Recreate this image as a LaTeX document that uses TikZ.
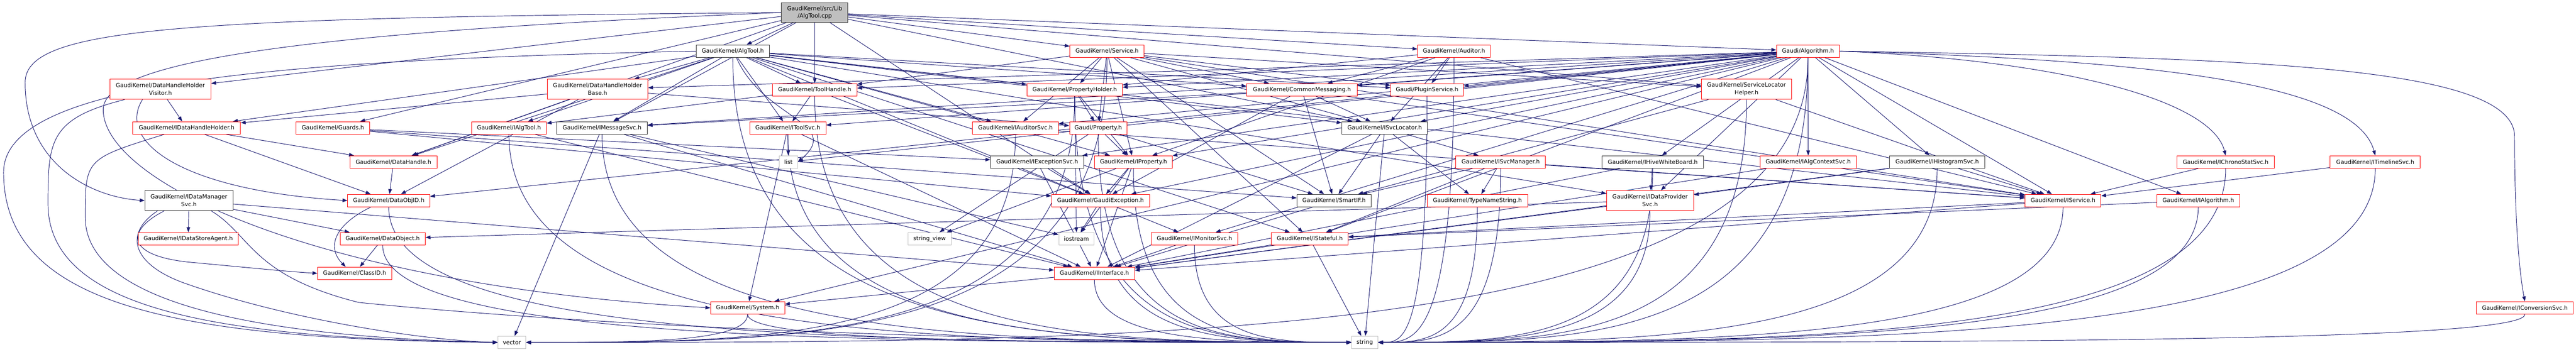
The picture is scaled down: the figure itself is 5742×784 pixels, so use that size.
\documentclass[tikz,border=0pt]{standalone}
\usepackage{fontspec}
\setmainfont{DejaVu Sans}
\usetikzlibrary{arrows.meta,calc}
\definecolor{edgec}{RGB}{25,25,112}
\definecolor{nodered}{RGB}{255,0,0}
\definecolor{nodeblk}{RGB}{50,50,50}
\definecolor{nodegry}{RGB}{191,191,191}
\definecolor{rootfill}{RGB}{191,191,191}
\pgfdeclarelayer{bg}
\pgfsetlayers{bg,main}
\tikzset{
  nb/.style={draw, line width=1pt, fill=white, inner sep=0pt, align=center,
    font=\fontsize{12.7}{17}\selectfont, minimum height=28pt},
  nred/.style={nb, draw=nodered},
  nblk/.style={nb, draw=nodeblk},
  ngry/.style={nb, draw=nodegry},
  nroot/.style={nb, draw=nodeblk, fill=rootfill},
  twol/.style={minimum height=45pt},
  e/.style={draw=edgec, line width=1.1pt, -{Triangle[length=11pt,width=8pt]}}
}
\newcommand\edL[2]{\draw[e] (#1) -- (#2);}
\newcommand\edSW[1]{\draw[e] let \p1=(#1.south), \p2=(string.west) in (\p1) .. controls (\x1,\y2) and ({(\x1+\x2)/2},\y2) .. (\p2);}
\newcommand\edSE[1]{\draw[e] let \p1=(#1.south), \p2=(string.east) in (\p1) .. controls (\x1,\y2) and ({(\x1+\x2)/2},\y2) .. (\p2);}
\newcommand\edVW[1]{\draw[e] let \p1=(#1.south), \p2=(vector.west) in (\p1) .. controls (\x1,\y2) and ({(\x1+\x2)/2},\y2) .. (\p2);}
\newcommand\edVE[1]{\draw[e] let \p1=(#1.south), \p2=(vector.east) in (\p1) .. controls (\x1,\y2) and ({(\x1+\x2)/2},\y2) .. (\p2);}
\begin{document}
\begin{tikzpicture}[x=1pt,y=1pt]
\useasboundingbox (0,0) rectangle (5742,784);
% row 0
\node[nroot, twol, minimum height=44pt, minimum width=148pt] (root) at (1816,756) {GaudiKernel/src/Lib\\/AlgTool.cpp};
% row 1
\node[nblk, minimum width=163pt] (algtoolh) at (1633.5,670) {GaudiKernel/AlgTool.h};
\node[nred, minimum width=165pt] (service) at (2467.5,670) {GaudiKernel/Service.h};
\node[nred, minimum width=162pt] (auditor) at (3241,670) {GaudiKernel/Auditor.h};
\node[nred, minimum width=140pt] (algorithm) at (4030,670) {Gaudi/Algorithm.h};
% row 2
\node[nred, twol, minimum width=225pt] (dhhv) at (357.5,585) {GaudiKernel/DataHandleHolder\\Visitor.h};
\node[nred, twol, minimum width=224pt] (dhhb) at (1332,585) {GaudiKernel/DataHandleHolder\\Base.h};
\node[nred, minimum width=188pt] (toolhandle) at (1816,584) {GaudiKernel/ToolHandle.h};
\node[nred, minimum width=213pt] (propholder) at (2395.5,584) {GaudiKernel/PropertyHolder.h};
\node[nred, minimum width=246pt] (commonmsg) at (2902,584) {GaudiKernel/CommonMessaging.h};
\node[nred, minimum width=162pt] (plugin) at (3181,584) {Gaudi/PluginService.h};
\node[nred, twol, minimum width=200pt] (slh) at (3893,585) {GaudiKernel/ServiceLocator\\Helper.h};
% row 3
\node[nred, minimum width=240pt] (idhh) at (416,499) {GaudiKernel/IDataHandleHolder.h};
\node[nred, minimum width=164pt] (guards) at (742,499) {GaudiKernel/Guards.h};
\node[nred, minimum width=167pt] (ialgtool) at (1134.5,499) {GaudiKernel/IAlgTool.h};
\node[nblk, minimum width=202pt] (imsgsvc) at (1342,499) {GaudiKernel/IMessageSvc.h};
\node[nred, minimum width=170pt] (itoolsvc) at (1756,499) {GaudiKernel/IToolSvc.h};
\node[nred, minimum width=191pt] (iauditorsvc) at (2263.5,499) {GaudiKernel/IAuditorSvc.h};
\node[nred, minimum width=128pt] (property) at (2448,499) {Gaudi/Property.h};
\node[nblk, minimum width=191pt] (isvcloc) at (3086.5,499) {GaudiKernel/ISvcLocator.h};
% row 4
\node[nred, minimum width=194pt] (datahandle) at (877,423) {GaudiKernel/DataHandle.h};
\node[ngry, minimum width=41pt] (list) at (1757.5,423) {list};
\node[nblk, minimum width=208pt] (iexcsvc) at (2312,423) {GaudiKernel/IExceptionSvc.h};
\node[nred, minimum width=173pt] (iproperty) at (2526.5,423) {GaudiKernel/IProperty.h};
\node[nred, minimum width=200pt] (isvcmgr) at (3345,423) {GaudiKernel/ISvcManager.h};
\node[nblk, minimum width=226pt] (ihwb) at (3684,423) {GaudiKernel/IHiveWhiteBoard.h};
\node[nred, minimum width=215pt] (ialgctx) at (4030.5,423) {GaudiKernel/IAlgContextSvc.h};
\node[nblk, minimum width=212pt] (ihistsvc) at (4318,423) {GaudiKernel/IHistogramSvc.h};
\node[nred, minimum width=216pt] (ichrono) at (4961,423) {GaudiKernel/IChronoStatSvc.h};
\node[nred, minimum width=201pt] (itimeline) at (5294.5,423) {GaudiKernel/ITimelineSvc.h};
% row 5
\node[nblk, twol, minimum width=196pt] (idms) at (421,337) {GaudiKernel/IDataManager\\Svc.h};
\node[nred, minimum width=183pt] (dataobjid) at (866.5,337) {GaudiKernel/DataObjID.h};
\node[nred, minimum width=218pt] (gexc) at (2453,337) {GaudiKernel/GaudiException.h};
\node[nblk, minimum width=165pt] (smartif) at (2973.5,337) {GaudiKernel/SmartIF.h};
\node[nred, minimum width=224pt] (typename) at (3293,337) {GaudiKernel/TypeNameString.h};
\node[nred, twol, minimum width=194pt] (idps) at (3678,337) {GaudiKernel/IDataProvider\\Svc.h};
\node[nred, minimum width=169pt] (iservice) at (4598.5,337) {GaudiKernel/IService.h};
\node[nred, minimum width=184pt] (ialgorithm) at (4900,337) {GaudiKernel/IAlgorithm.h};
% row 6
\node[nred, minimum width=223pt] (idsa) at (419.5,252) {GaudiKernel/IDataStoreAgent.h};
\node[nred, minimum width=190pt] (dataobject) at (853,252) {GaudiKernel/DataObject.h};
\node[ngry, minimum width=96pt] (stringview) at (2072,252) {string\_view};
\node[ngry, minimum width=79pt] (iostream) at (2399.5,252) {iostream};
\node[nred, minimum width=193pt] (imonitor) at (2662.5,252) {GaudiKernel/IMonitorSvc.h};
\node[nred, minimum width=171pt] (istateful) at (2919.5,252) {GaudiKernel/IStateful.h};
% row 7
\node[nred, minimum width=165pt] (classid) at (790.5,175) {GaudiKernel/ClassID.h};
\node[nred, minimum width=179pt] (iinterface) at (2439.5,175) {GaudiKernel/IInterface.h};
% row 8
\node[nred, minimum width=165pt] (system) at (1666.5,98) {GaudiKernel/System.h};
\node[nred, minimum width=216pt] (iconv) at (5628,98) {GaudiKernel/IConversionSvc.h};
% row 9
\node[ngry, minimum width=62pt] (vector) at (1141,21) {vector};
\node[ngry, minimum width=58pt] (string) at (3042,21) {string};

\begin{pgfonlayer}{bg}
% root
\edL{root}{algtoolh}
\edL{root}{toolhandle}
\edL{root}{service}
\edL{root}{auditor}
\edL{root}{algorithm}
\edL{root}{slh}
\edL{root}{dhhv}
\edL{root}{guards}
\edL{root}{imsgsvc}
\edL{root}{isvcloc}
\edL{root}{gexc}
\edL{root}{datahandle}
\draw[e] (root.west) .. controls (400,744) and (56,724) .. (56,600) .. controls (56,420) and (200,345) .. (idms.west);
\draw[e] (root.west) .. controls (700,714) and (230,650) .. (230,540) .. controls (230,380) and (700,150) .. (system.west);
% AlgTool.h
\edL{algtoolh}{dhhb}
\edL{algtoolh}{idhh}
\edL{algtoolh}{ialgtool}
\edL{algtoolh}{imsgsvc}
\edL{algtoolh}{itoolsvc}
\edL{algtoolh}{toolhandle}
\edL{algtoolh}{datahandle}
\edL{algtoolh}{commonmsg}
\edL{algtoolh}{propholder}
\edL{algtoolh}{iauditorsvc}
\edL{algtoolh}{iproperty}
\edL{algtoolh}{imonitor}
\edL{algtoolh}{iservice}
\edL{algtoolh}{istateful}
\edL{algtoolh}{isvcloc}
\edL{algtoolh}{plugin}
\edL{algtoolh}{idps}
\draw[e] ([xshift=8pt]algtoolh.south) .. controls (1700,520) and (1880,510) .. (list.east);
\draw[e] (algtoolh.west) .. controls (600,650) and (8,600) .. (8,400) .. controls (8,100) and (400,28) .. (vector.west);
\edSW{algtoolh}
% Service.h
\edL{service}{propholder}
\edL{service}{iauditorsvc}
\edL{service}{property}
\edL{service}{iproperty}
\edL{service}{commonmsg}
\edL{service}{iservice}
\edL{service}{istateful}
\edL{service}{isvcloc}
\edL{service}{slh}
\edL{service}{smartif}
\edL{service}{toolhandle}
\edL{service}{plugin}
\edVE{service}
% Auditor.h
\edL{auditor}{commonmsg}
\edL{auditor}{plugin}
\edL{auditor}{isvcloc}
\edL{auditor}{propholder}
\edL{auditor}{iproperty}
\edL{auditor}{iservice}
\edSE{auditor}
% Algorithm.h
\edL{algorithm}{commonmsg}
\edL{algorithm}{dataobjid}
\edL{algorithm}{ialgctx}
\edL{algorithm}{ialgorithm}
\edL{algorithm}{iauditorsvc}
\edL{algorithm}{ihistsvc}
\edL{algorithm}{idps}
\edL{algorithm}{iexcsvc}
\edL{algorithm}{imsgsvc}
\edL{algorithm}{imonitor}
\edL{algorithm}{iproperty}
\edL{algorithm}{iservice}
\edL{algorithm}{istateful}
\edL{algorithm}{isvcloc}
\edL{algorithm}{itoolsvc}
\edL{algorithm}{propholder}
\edL{algorithm}{toolhandle}
\edL{algorithm}{plugin}
\edL{algorithm}{dhhb}
\edL{algorithm}{ihwb}
\edL{algorithm}{list}
\edL{algorithm}{gexc}
\edL{algorithm}{system}
\draw[e] (algorithm.east) .. controls (4600,650) and (4930,560) .. (ichrono.north);
\draw[e] (algorithm.east) .. controls (4800,650) and (5250,600) .. (itimeline.north);
\draw[e] (algorithm.east) .. controls (5000,655) and (5605,640) .. (5605,480) .. controls (5605,300) and (5615,180) .. (iconv.north);
\edSE{algorithm}
\edVE{algorithm}
% DataHandleHolderVisitor.h
\edL{dhhv}{idhh}
\draw[e] ([xshift=-40pt]dhhv.south) .. controls (260,470) and (400,360) .. (dataobjid.west);
\draw[e] ([xshift=-80pt]dhhv.south) .. controls (110,520) and (107,470) .. (107,330) .. controls (107,90) and (500,30) .. (vector.west);
% DataHandleHolderBase.h
\edL{dhhb}{idhh}
\edL{dhhb}{datahandle}
\edL{dhhb}{dataobjid}
\edL{dhhb}{property}
% ToolHandle.h
\edL{toolhandle}{ialgtool}
\edL{toolhandle}{itoolsvc}
\edL{toolhandle}{gexc}
\edSW{toolhandle}
% PropertyHolder.h
\edL{propholder}{property}
\edL{propholder}{iproperty}
\edL{propholder}{iostream}
\edSW{propholder}
\edVE{propholder}
% CommonMessaging.h
\edL{commonmsg}{imsgsvc}
\edL{commonmsg}{isvcloc}
\edL{commonmsg}{smartif}
\edL{commonmsg}{gexc}
\edL{commonmsg}{iservice}
% PluginService.h
\edSE{plugin}
% ServiceLocatorHelper.h
\edL{slh}{iservice}
\edL{slh}{smartif}
\edSE{slh}
% IDataHandleHolder.h
\edL{idhh}{dataobjid}
\edL{idhh}{datahandle}
\draw[e] ([xshift=-50pt]idhh.south) .. controls (190,430) .. (190,300) .. controls (190,80) and (700,30) .. (vector.west);
% Guards.h
\edL{guards}{gexc}
\edL{guards}{iexcsvc}
\edL{guards}{smartif}
% IAlgTool.h
\edL{ialgtool}{iinterface}
\edSW{ialgtool}
% IMessageSvc.h
\edL{imsgsvc}{iinterface}
\edL{imsgsvc}{iostream}
\edL{imsgsvc}{vector}
\edSW{imsgsvc}
% IToolSvc.h
\edL{itoolsvc}{list}
\edL{itoolsvc}{system}
\edL{itoolsvc}{iinterface}
\edSW{itoolsvc}
% IAuditorSvc.h
\edL{iauditorsvc}{iservice}
\edVE{iauditorsvc}
% Property.h
\edL{property}{iproperty}
\edL{property}{stringview}
\edL{property}{smartif}
\edSW{property}
% ISvcLocator.h
\edL{isvcloc}{smartif}
\edL{isvcloc}{isvcmgr}
\edL{isvcloc}{typename}
\edL{isvcloc}{iinterface}
\edL{isvcloc}{string}
% DataHandle.h
\edL{datahandle}{dataobjid}
% IExceptionSvc.h
\edL{iexcsvc}{gexc}
\edL{iexcsvc}{iinterface}
% IProperty.h
\edL{iproperty}{gexc}
\edL{iproperty}{iinterface}
\edL{iproperty}{stringview}
\edL{iproperty}{iostream}
\edSW{iproperty}
% ISvcManager.h
\edL{isvcmgr}{typename}
\edL{isvcmgr}{istateful}
\edL{isvcmgr}{iservice}
\edL{isvcmgr}{smartif}
\edSE{isvcmgr}
% IHiveWhiteBoard.h
\edL{ihwb}{idps}
\edL{ihwb}{iinterface}
\edSE{ihwb}
% IAlgContextSvc.h
\edL{ialgctx}{iinterface}
% IHistogramSvc.h
\edL{ihistsvc}{iservice}
\edL{ihistsvc}{idps}
\edL{ihistsvc}{iinterface}
\edSE{ihistsvc}
% IChronoStatSvc.h
\edL{ichrono}{iservice}
\edSE{ichrono}
% ITimelineSvc.h
\edL{itimeline}{iservice}
\edSE{itimeline}
% IDataManagerSvc.h
\edL{idms}{idsa}
\draw[e] ([xshift=-55pt]idms.south) .. controls (280,270) and (280,215) .. (420,200) .. controls (550,188) and (650,178) .. (classid.west);
\edL{idms}{dataobject}
\edL{idms}{iinterface}
\draw[e] ([xshift=-70pt]idms.south) .. controls (270,260) and (300,190) .. (420,150) .. controls (650,70) and (950,25) .. (vector.west);
\draw[e] ([xshift=50pt]idms.south) .. controls (560,260) and (560,170) .. (800,110) .. controls (1500,40) and (2500,21) .. (string.west);
% DataObjID.h
\draw[e] ([xshift=-40pt]dataobjid.south) .. controls (740,280) and (730,230) .. ([xshift=-20pt]classid.north);
\edSW{dataobjid}
% GaudiException.h
\edL{gexc}{iostream}
\edSW{gexc}
% SmartIF.h
\edL{smartif}{iinterface}
% TypeNameString.h
\edSE{typename}
% IDataProviderSvc.h
\edL{idps}{dataobject}
\edL{idps}{iinterface}
\edSE{idps}
% IService.h
\edL{iservice}{iinterface}
\edL{iservice}{istateful}
\edSE{iservice}
% IAlgorithm.h
\edL{ialgorithm}{istateful}
\edSE{ialgorithm}
% DataObject.h
\edL{dataobject}{classid}
\edSW{dataobject}
% IMonitorSvc.h
\edL{imonitor}{iinterface}
\edSW{imonitor}
% IStateful.h
\edL{istateful}{iinterface}
\edL{istateful}{string}
% IInterface.h
\edL{iinterface}{system}
\edSW{iinterface}
% System.h
\edSW{system}
\edVE{system}
% IConversionSvc.h
\edSE{iconv}
\end{pgfonlayer}
\end{tikzpicture}
\end{document}
